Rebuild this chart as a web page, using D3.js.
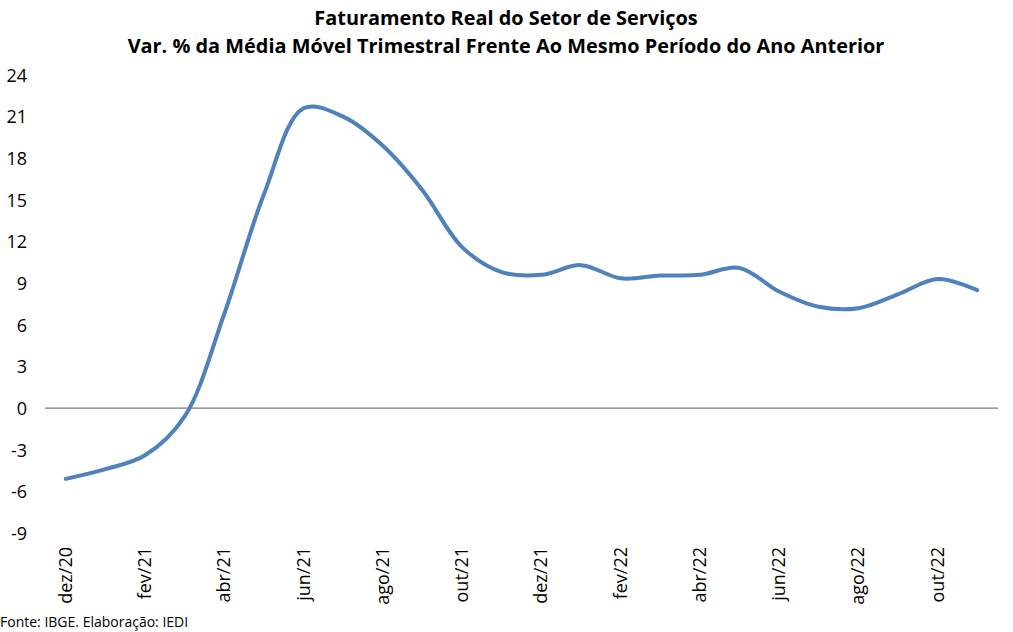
<!DOCTYPE html>
<html>
<head>
<meta charset="utf-8">
<script src="https://cdn.jsdelivr.net/npm/d3@7"></script>
<style>
  body { margin: 0; background: #fff; }
  svg text { font-family: "Open Sans", "Noto Sans", sans-serif; fill: #000; }
</style>
</head>
<body>
<svg id="chart" width="1013" height="632"></svg>
<script>
// --- data ---
const months = [
    "dez/20", "jan/21", "fev/21", "mar/21", "abr/21", "mai/21",
    "jun/21", "jul/21", "ago/21", "set/21", "out/21", "nov/21",
    "dez/21", "jan/22", "fev/22", "mar/22", "abr/22", "mai/22",
    "jun/22", "jul/22", "ago/22", "set/22", "out/22", "nov/22"
];
const values = [
    -5.1, -4.4, -3.4, -0.6, 6.8, 15.4,
    21.6, 21.0, 18.9, 15.7, 11.6, 9.8,
    9.6, 10.3, 9.35, 9.55, 9.6, 10.1,
    8.4, 7.3, 7.2, 8.2, 9.3, 8.5
];
const yTicks = [-9, -6, -3, 0, 3, 6, 9, 12, 15, 18, 21, 24];
const titleLines = [
    "Faturamento Real do Setor de Serviços",
    "Var. % da Média Móvel Trimestral Frente Ao Mesmo Período do Ano Anterior"
];
const sourceText = "Fonte: IBGE. Elaboração: IEDI";

const svg = d3.select("#chart");

const x = d3.scaleBand()
    .domain(months)
    .range([46, 997]);

const y = d3.scaleLinear()
    .domain([-9, 24])
    .range([533, 75]);

// title
svg.append("g")
    .selectAll("text")
    .data(titleLines)
    .enter()
    .append("text")
    .attr("x", 506)
    .attr("y", (d, i) => 25 + i * 28)
    .attr("text-anchor", "middle")
    .style("font-size", "19.9px")
    .style("font-weight", "bold")
    .text(d => d);

// y axis labels (no axis line), plain hyphen for negatives
const yAxis = svg.append("g")
    .attr("transform", "translate(27,0)")
    .call(d3.axisLeft(y).tickValues(yTicks).tickFormat(d => String(d)).tickSize(0).tickPadding(0));
yAxis.select(".domain").remove();
yAxis.selectAll("text")
    .style("font-size", "18px")
    .attr("dy", "0.35em");

// zero line
svg.append("line")
    .attr("x1", 45)
    .attr("x2", 998)
    .attr("y1", y(0))
    .attr("y2", y(0))
    .attr("stroke", "#595959")
    .attr("stroke-width", 1);

// x labels, every other month, rotated
svg.append("g")
    .selectAll("text")
    .data(months.filter((d, i) => i % 2 === 0))
    .enter()
    .append("text")
    .attr("transform", d => `translate(${x(d) + x.bandwidth() / 2 + 6},547) rotate(-90)`)
    .attr("text-anchor", "end")
    .style("font-size", "18px")
    .text(d => d);

// series
const line = d3.line()
    .x((d, i) => x(months[i]) + x.bandwidth() / 2)
    .y(d => y(d))
    .curve(d3.curveCatmullRom.alpha(0.5));

svg.append("path")
    .datum(values)
    .attr("d", line)
    .attr("fill", "none")
    .attr("stroke", "#4f81bd")
    .attr("stroke-width", 4)
    .attr("stroke-linecap", "round")
    .attr("stroke-linejoin", "round");

// source
svg.append("text")
    .attr("x", 0)
    .attr("y", 627)
    .style("font-size", "14px")
    .text(sourceText);
</script>
</body>
</html>
